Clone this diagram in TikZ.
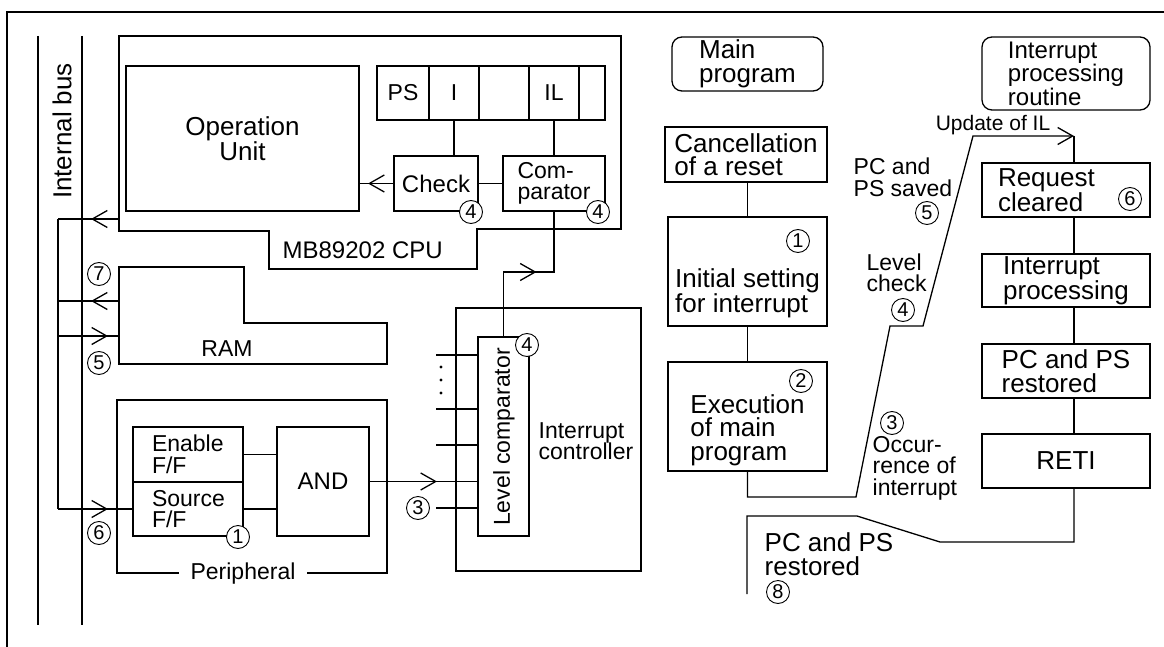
\documentclass[tikz,border=0pt]{standalone}
\usepackage{fontspec}
\setmainfont{Liberation Sans}
\usepackage{tikz}
\usetikzlibrary{positioning,arrows.meta,decorations.markings}

\begin{document}
\begin{tikzpicture}[
        x=1pt, y=-1pt,
        line width=1.3pt,
        node distance=36pt,
        box/.style={rectangle, draw, inner sep=0pt, outer sep=0pt},
        prog/.style={box, rounded corners=10pt},
        reg/.style={box, small, minimum height=54pt, minimum width=#1},
        big/.style={font=\fontsize{26}{23.5}\selectfont},
        tight/.style={font=\fontsize{26}{22.5}\selectfont},
        mid/.style={font=\fontsize{24}{21.5}\selectfont},
        small/.style={font=\fontsize{23}{21.5}\selectfont},
        note/.style={small, inner sep=0pt, align=left, anchor=west},
        ltext/.style={align=left, text width=#1},
        num/.style={circle, draw, fill=white, line width=0.9pt, inner sep=0pt, minimum size=23pt,
            font=\fontsize{20}{20}\selectfont},
        barb/.style={postaction={decorate}, decoration={markings,
            mark=at position #1 with {\arrow{Straight Barb[length=15pt,width=17pt]}}}},
        endbarb/.style={-{Straight Barb[length=15pt,width=17pt]}}
    ]

    \useasboundingbox (0,0) rectangle (1164,647);

    % Frame
    \draw (7,647) -- (7,12) -- (1164,12);

    % Internal bus
    \draw (38,36) -- (38,625);
    \draw (82,36) -- (82,625);
    \node[big, rotate=90] (busname) at (62,131) {Internal bus};
    \coordinate (jtop) at (58,219);
    \coordinate (jbot) at (58,509);
    \draw (jtop) -- (jbot);

    % CPU
    \draw (119,36) -- (621,36) -- (621,229) -- (477,229) -- (477,269)
        -- (269,269) -- (269,231) -- (119,231) -- cycle;
    \coordinate (cpuport) at (119,219);
    \node[mid, anchor=west, inner sep=0pt] (cpuname) at (282,250) {MB89202 CPU};
    \node[box, big, align=center, minimum width=233pt, minimum height=145pt] (opu) at (242.5,138.5) {Operation\\Unit};

    % Registers
    \node[reg=52pt] (ps) at (403,93) {PS};
    \node[reg=50pt, right=0pt of ps] (ireg) {I};
    \node[reg=50pt, right=0pt of ireg] (blank) {};
    \node[reg=50pt, right=0pt of blank] (ilreg) {IL};
    \node[reg=26pt, right=0pt of ilreg] (spare) {};

    % Check and comparator
    \node[box, mid, minimum width=84pt, minimum height=55pt] (check) at (436,183.5) {Check};
    \node[box, small, align=left, minimum width=102pt, minimum height=55pt] (comp) at (554,183.5) {Com-\\parator};
    \node[num] (n4a) at (471,212) {4};
    \node[num] (n4b) at (598,212) {4};
    \draw (ireg.south) -- (ireg.south |- check.north);
    \draw (ilreg.south) -- (comp.north);
    \draw (check.east) -- (comp.west);
    \draw[barb=-9pt] (check.west) -- (opu.east |- check.west);

    % RAM
    \draw (119,267) -- (244,267) -- (244,323) -- (387,323) -- (387,364) -- (119,364) -- cycle;
    \node[small] (ram) at (227,349) {RAM};
    \coordinate (ramout) at (119,301);
    \coordinate (ramin) at (119,336);

    % Peripheral
    \node[box, minimum width=270pt, minimum height=173pt] (peri) at (252,486.5) {};
    \node[small, fill=white, inner xsep=12pt, inner ysep=2pt] (periname) at (243,574) {Peripheral};
    \node[box, small, ltext=72pt, inner xsep=19pt, minimum height=55pt] (enable) at (188,454.5) {Enable\\F/F};
    \node[box, small, ltext=72pt, inner xsep=19pt, minimum height=54pt, below=0pt of enable] (source) {Source\\F/F};
    \node[num] (n1a) at (238,537) {1};
    \node[box, mid, minimum width=92pt, minimum height=109pt] (and) at (323,481.5) {AND};
    \draw (enable.east) -- (enable.east -| and.west);
    \draw (source.east) -- (source.east -| and.west);

    % Interrupt controller
    \node[box, minimum width=185pt, minimum height=263pt] (ictl) at (548.5,439.5) {};
    \node[small, align=left, anchor=west, inner sep=0pt] (ictlname) at (538,441) {Interrupt\\controller};
    \node[box, minimum width=51pt, minimum height=199pt] (lvl) at (503.5,436.5) {};
    \node[small, rotate=90, inner sep=0pt] (lvlname) at (504,437) {Level comparator};
    \node[num] (n4c) at (527,345) {4};
    \foreach \yy [count=\k] in {355,409,445,508} {
        \coordinate (in\k) at (436,\yy);
        \draw (in\k) -- (in\k -| lvl.west);
    }
    \foreach \yy in {367,380,393}
        \fill (441,\yy) circle (1.6pt);
    \node[num] (n3a) at (418,508) {3};
    \coordinate (lvlturn) at (503.5,272);
    \draw[barb=-41pt] (and.east) -- (and.east -| lvl.west);
    \draw[barb=98pt] (lvl.north) -- (lvlturn) -| (comp.south);

    % Bus connections
    \draw[barb=-33pt] (cpuport) -- (jtop);
    \draw[barb=-33pt] (ramout) -- (ramout -| jtop);
    \draw[barb=-11pt] (ramin -| jtop) -- (ramin);
    \draw[barb=-25pt] (jbot) -- (source.west);
    \node[num] (n7) at (99,274) {7};
    \node[num] (n5a) at (99,363) {5};
    \node[num] (n6a) at (99,533) {6};

    % Main program
    \node[prog, big, align=left, minimum width=151pt, minimum height=54pt] (mainprog) at (747.5,64) {Main\\program};
    \node[box, big, align=left, minimum width=162pt, minimum height=55pt] (cancel) at (746,154.5) {Cancellation\\of a reset};
    \node[box, minimum width=159pt, minimum height=109pt] (init) at (747.5,271.5) {};
    \node[big, align=left, inner sep=0pt] (inittext) at (747.5,293) {Initial setting\\for interrupt};
    \node[num] (n1b) at (798,241) {1};
    \node[box, minimum width=159pt, minimum height=109pt] (exec) at (747.5,416.5) {};
    \node[big, align=left, inner sep=0pt] (exectext) at (747.5,430) {Execution\\of main\\program};
    \node[num] (n2) at (801,381) {2};
    \foreach \a/\b in {cancel/init, init/exec}
        \draw (\b.north |- \a.south) -- (\b.north);

    % Interrupt processing routine
    \node[prog, mid, align=left, minimum width=168pt, minimum height=73pt] (routine) at (1066,73.5) {Interrupt\\processing\\routine};
    \node[box, tight, ltext=136pt, inner xsep=16pt, minimum height=54pt] (request) at (1066,190) {Request\\cleared};
    \node[num] (n6b) at (1130,199) {6};
    \node[box, tight, align=left, minimum width=168pt, minimum height=53pt, below=37pt of request] (intproc) {Interrupt\\processing};
    \node[box, big, align=left, minimum width=168pt, minimum height=54pt, below=37pt of intproc] (restore) {PC and PS\\restored};
    \node[box, big, minimum width=168pt, minimum height=54pt, below=36pt of restore] (reti) {RETI};
    \coordinate (rcol) at (1074,0);
    \foreach \a/\b in {request/intproc, intproc/restore, restore/reti}
        \draw (\a.south -| rcol) -- (\b.north -| rcol);

    % Interrupt and return
    \coordinate (upd) at (1074,136);
    \draw[endbarb] (exec.south) -- (747.5,497) -- (856,497) -- (890,326) -- (923,326) -- (973,136) -- (upd);
    \draw (upd) -- (request.north -| upd);
    \coordinate (resume) at (747,594);
    \draw (reti.south -| rcol) -- (1074,542) -- (940,542) -- (857,516) -- (747,516) -- (resume);

    % Labels
    \node[font=\fontsize{21}{21}\selectfont, inner sep=0pt] (updname) at (993,125) {Update of IL};
    \node[note] (savedname) at (853,177.5) {PC and\\PS saved};
    \node[num] (n5b) at (927,213) {5};
    \node[note] (checkname) at (866,273) {Level\\check};
    \node[num] (n4d) at (903,310) {4};
    \node[num] (n3b) at (892,423) {3};
    \node[note, font=\fontsize{23}{21.5}\selectfont] (occurname) at (872,468) {Occur-\\rence of\\interrupt};
    \node[note, font=\fontsize{26}{23.5}\selectfont] (restname) at (764,554) {PC and PS\\restored};
    \node[num] (n8) at (778,592) {8};

\end{tikzpicture}
\end{document}
